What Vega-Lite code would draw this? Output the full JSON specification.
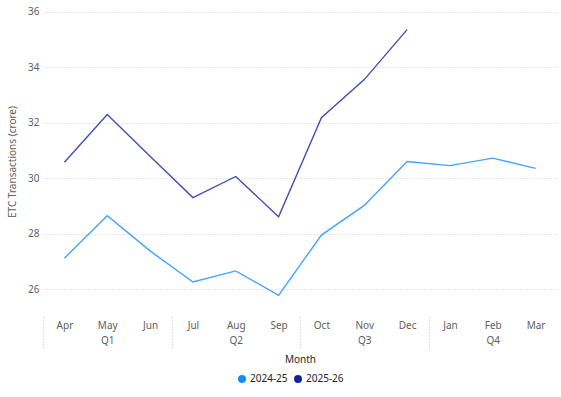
{
  "$schema": "https://vega.github.io/schema/vega-lite/v6.json",
  "width": 514,
  "height": 311,
  "autosize": {"type": "none"},
  "padding": {"left": 43, "top": 6, "right": 4, "bottom": 80},
  "background": "white",
  "config": {"font": "Noto Sans", "view": {"stroke": null}},
  "data": {
    "values": [
      {"month": "Apr", "year": "2024-25", "value": 27.12},
      {"month": "May", "year": "2024-25", "value": 28.65},
      {"month": "Jun", "year": "2024-25", "value": 27.38},
      {"month": "Jul", "year": "2024-25", "value": 26.26},
      {"month": "Aug", "year": "2024-25", "value": 26.66},
      {"month": "Sep", "year": "2024-25", "value": 25.78},
      {"month": "Oct", "year": "2024-25", "value": 27.95},
      {"month": "Nov", "year": "2024-25", "value": 29.02},
      {"month": "Dec", "year": "2024-25", "value": 30.6},
      {"month": "Jan", "year": "2024-25", "value": 30.45},
      {"month": "Feb", "year": "2024-25", "value": 30.72},
      {"month": "Mar", "year": "2024-25", "value": 30.35},
      {"month": "Apr", "year": "2025-26", "value": 30.57},
      {"month": "May", "year": "2025-26", "value": 32.29},
      {"month": "Jun", "year": "2025-26", "value": 30.79},
      {"month": "Jul", "year": "2025-26", "value": 29.3},
      {"month": "Aug", "year": "2025-26", "value": 30.06},
      {"month": "Sep", "year": "2025-26", "value": 28.61},
      {"month": "Oct", "year": "2025-26", "value": 32.18},
      {"month": "Nov", "year": "2025-26", "value": 33.55},
      {"month": "Dec", "year": "2025-26", "value": 35.35}
    ]
  },
  "mark": {"type": "line", "strokeWidth": 1.4, "strokeOpacity": 0.8},
  "encoding": {
    "x": {
      "field": "month",
      "type": "ordinal",
      "bandPosition": 0.5,
      "sort": ["Apr", "May", "Jun", "Jul", "Aug", "Sep", "Oct", "Nov", "Dec", "Jan", "Feb", "Mar"],
      "scale": {"type": "band", "paddingInner": 0, "paddingOuter": 0},
      "axis": {
        "title": "Month",
        "titleFontSize": 10,
        "titleFontWeight": "normal",
        "titleColor": "#252423",
        "titlePadding": 4,
        "labelExpr": "datum.value=='May'?['May','Q1']:datum.value=='Aug'?['Aug','Q2']:datum.value=='Nov'?['Nov','Q3']:datum.value=='Feb'?['Feb','Q4']:datum.value",
        "labelAngle": 0,
        "labelFontSize": 10,
        "labelColor": "#605E5C",
        "labelLineHeight": 15,
        "labelPadding": -30,
        "tickBand": "extent",
        "tickSize": 33,
        "tickDash": [1, 2],
        "tickColor": "#BDBDBD",
        "tickOpacity": {"condition": {"test": "datum.index < 0 || indexof(['Jun','Sep','Dec'], datum.value) >= 0", "value": 1}, "value": 0},
        "domain": false,
        "grid": false
      }
    },
    "y": {
      "field": "value",
      "type": "quantitative",
      "scale": {"domain": [25, 36.2], "nice": false, "zero": false},
      "axis": {
        "title": "ETC Transactions (crore)",
        "titleFontSize": 10,
        "titleFontWeight": "normal",
        "titleColor": "#605E5C",
        "titlePadding": 10,
        "values": [26, 28, 30, 32, 34, 36],
        "labelFontSize": 10,
        "labelColor": "#605E5C",
        "labelPadding": 4,
        "domain": false,
        "ticks": false,
        "gridDash": [1, 2],
        "gridColor": "#D0D0D0"
      }
    },
    "color": {
      "field": "year",
      "type": "nominal",
      "scale": {"domain": ["2024-25", "2025-26"], "range": ["#118DFF", "#12239E"]},
      "legend": {
        "orient": "none",
        "legendX": 194,
        "legendY": 368,
        "title": null,
        "direction": "horizontal",
        "symbolType": "circle",
        "symbolSize": 64,
        "symbolStrokeWidth": 0,
        "labelFontSize": 10,
        "labelColor": "#252423",
        "labelOffset": 3,
        "columnPadding": 5,
        "encode": {
          "symbols": {"update": {"fill": {"scale": "color", "field": "value"}, "fillOpacity": {"value": 1}}}
        }
      }
    }
  }
}
